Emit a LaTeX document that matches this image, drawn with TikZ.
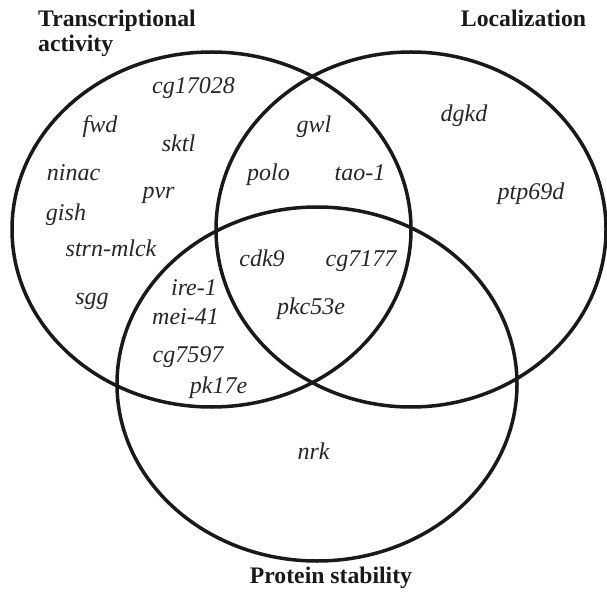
\documentclass[tikz,border=0pt]{standalone}
\usepackage{fontspec}
\setmainfont{Liberation Serif}

\tikzset{
  gene/.style={font=\itshape\fontsize{24}{28}\selectfont, anchor=base, inner sep=0pt, text=black!85},
  setname/.style={font=\bfseries\fontsize{23.7}{25}\selectfont, inner sep=0pt, text=black!90},
  setrim/.style={line width=3.5pt, draw=black!90},
}

\begin{document}
\begin{tikzpicture}[x=1pt,y=-1pt]
  \useasboundingbox (0,0) rectangle (607,593);

  % Three sets
  \draw[setrim] (211.5,229.5) ellipse [x radius=199.5pt, y radius=177.5pt];
  \draw[setrim] (411,229.5) ellipse [x radius=195pt, y radius=177.5pt];
  \draw[setrim] (317,384) ellipse [x radius=200pt, y radius=177pt];

  % Set names
  \node[setname, anchor=base west, align=left] (transc) at (38,52) {Transcriptional\\activity};
  \node[setname, anchor=base] (local) at (523.5,27) {Localization};
  \node[setname, anchor=base] (stab) at (331,583) {Protein stability};

  % Genes
  \foreach \nm/\x/\y/\txt in {
      cg17028/193.5/93.3/cg17028, fwd/100/133/fwd, sktl/178.5/152/sktl,
      ninac/73.5/181/ninac, pvr/158.5/199/pvr, gish/66/221/gish,
      strnmlck/111/257/strn-mlck, sgg/92/305/sgg,
      gwl/314/133/gwl, polo/268.5/181/polo, taoone/360/181/tao-1,
      dgkd/464/122/dgkd, ptp69d/531/200/ptp69d,
      cdk9/262/266.5/cdk9, cg7177/361/267/cg7177, pkc53e/311/314.5/pkc53e,
      ireone/194/296/ire-1, meifortyone/185.5/324.5/mei-41,
      cg7597/188/362.5/cg7597, pk17e/218.5/393/pk17e,
      nrk/313.5/459/nrk}
    \node[gene] (\nm) at (\x,\y) {\txt};
\end{tikzpicture}
\end{document}
